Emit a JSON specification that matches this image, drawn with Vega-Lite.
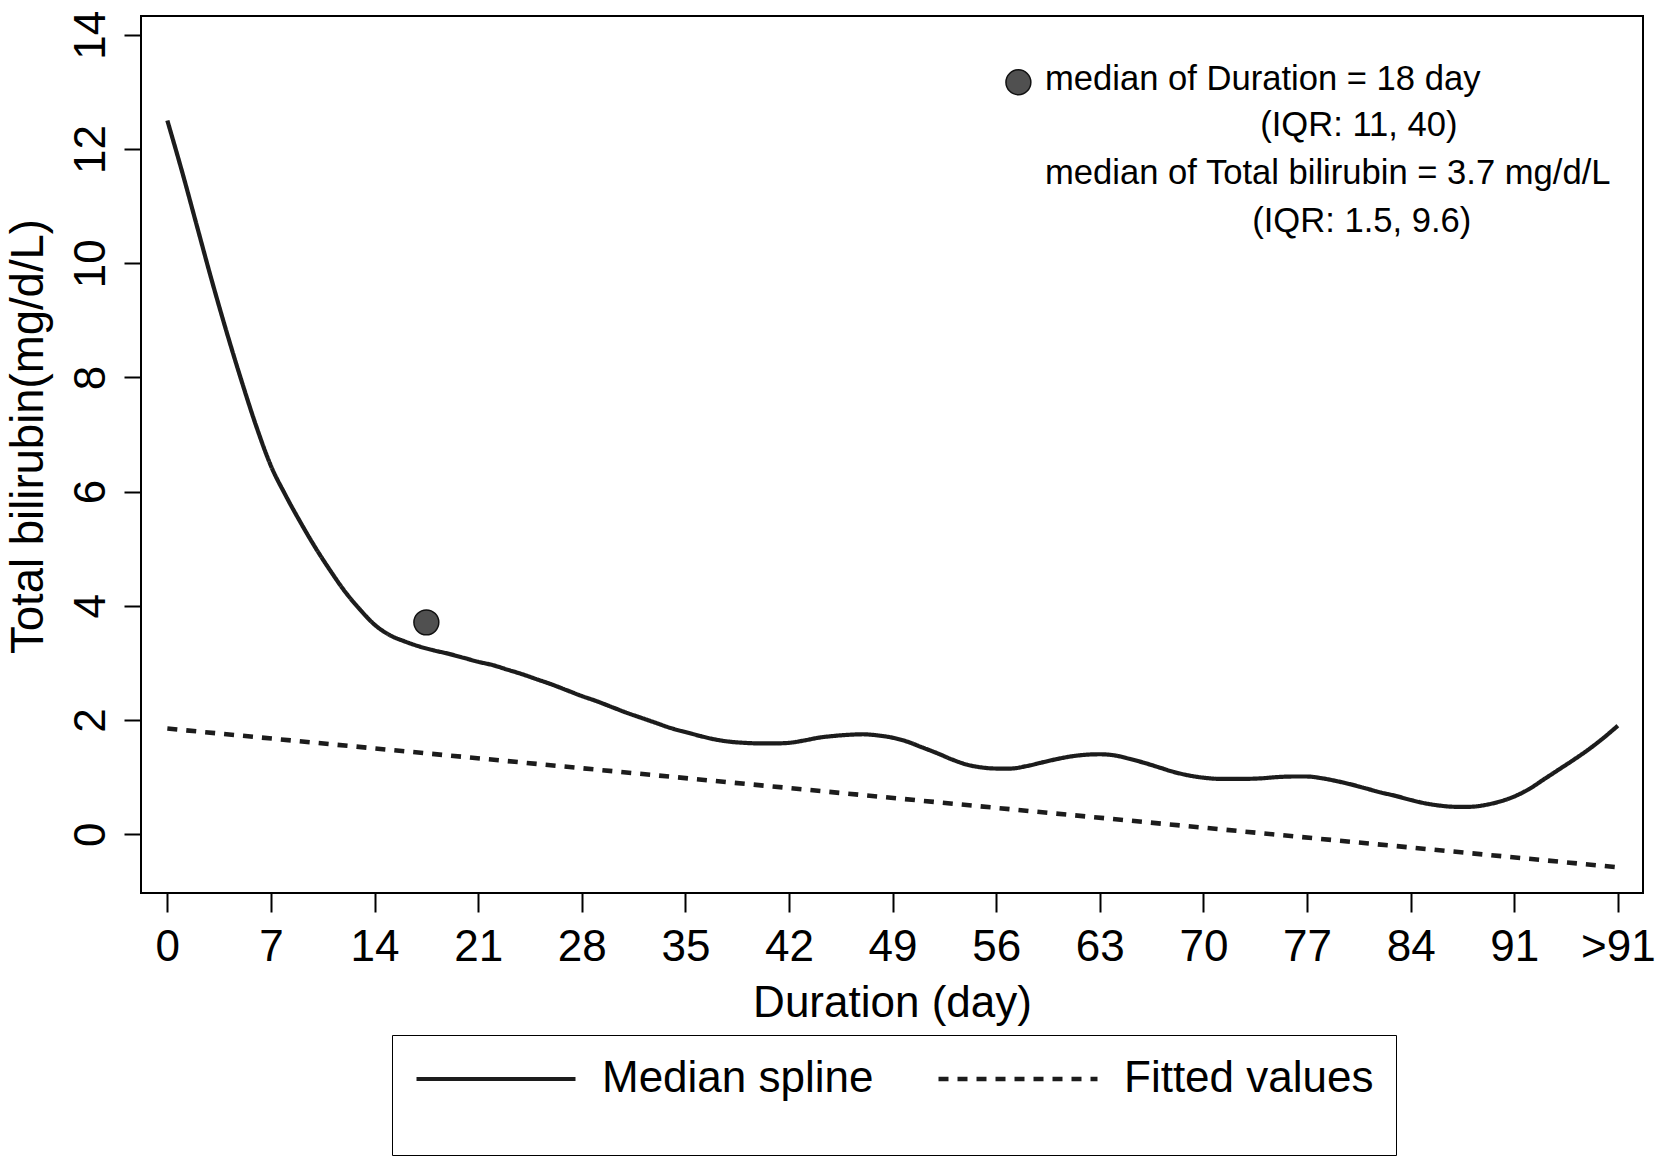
{
  "$schema": "https://vega.github.io/schema/vega-lite/v6.json",
  "width": 1502,
  "height": 877,
  "autosize": {"type": "none"},
  "padding": {"left": 141, "top": 16, "right": 17, "bottom": 267},
  "background": "white",
  "config": {
    "font": "Liberation Sans",
    "view": {"stroke": "black", "strokeWidth": 2},
    "axis": {
      "grid": false,
      "domain": false,
      "tickColor": "black",
      "tickWidth": 2,
      "labelColor": "black",
      "labelFontSize": 44,
      "titleColor": "black",
      "titleFontSize": 44,
      "titleFontWeight": "normal",
      "labelFont": "Liberation Sans",
      "titleFont": "Liberation Sans"
    }
  },
  "datasets": {
    "curve": [
      {"day": 0, "value": 12.5, "series": "Median spline"},
      {"day": 1, "value": 11.6, "series": "Median spline"},
      {"day": 2, "value": 10.65, "series": "Median spline"},
      {"day": 3, "value": 9.7, "series": "Median spline"},
      {"day": 4, "value": 8.8, "series": "Median spline"},
      {"day": 5, "value": 7.95, "series": "Median spline"},
      {"day": 6, "value": 7.15, "series": "Median spline"},
      {"day": 7, "value": 6.45, "series": "Median spline"},
      {"day": 8, "value": 5.93, "series": "Median spline"},
      {"day": 9, "value": 5.46, "series": "Median spline"},
      {"day": 10, "value": 5.02, "series": "Median spline"},
      {"day": 11, "value": 4.62, "series": "Median spline"},
      {"day": 12, "value": 4.25, "series": "Median spline"},
      {"day": 13, "value": 3.94, "series": "Median spline"},
      {"day": 14, "value": 3.67, "series": "Median spline"},
      {"day": 15, "value": 3.49, "series": "Median spline"},
      {"day": 16, "value": 3.38, "series": "Median spline"},
      {"day": 17, "value": 3.29, "series": "Median spline"},
      {"day": 18, "value": 3.22, "series": "Median spline"},
      {"day": 19, "value": 3.16, "series": "Median spline"},
      {"day": 20, "value": 3.09, "series": "Median spline"},
      {"day": 21, "value": 3.02, "series": "Median spline"},
      {"day": 22, "value": 2.96, "series": "Median spline"},
      {"day": 23, "value": 2.88, "series": "Median spline"},
      {"day": 24, "value": 2.8, "series": "Median spline"},
      {"day": 25, "value": 2.71, "series": "Median spline"},
      {"day": 26, "value": 2.62, "series": "Median spline"},
      {"day": 27, "value": 2.52, "series": "Median spline"},
      {"day": 28, "value": 2.42, "series": "Median spline"},
      {"day": 29, "value": 2.33, "series": "Median spline"},
      {"day": 30, "value": 2.23, "series": "Median spline"},
      {"day": 31, "value": 2.13, "series": "Median spline"},
      {"day": 32, "value": 2.04, "series": "Median spline"},
      {"day": 33, "value": 1.95, "series": "Median spline"},
      {"day": 34, "value": 1.86, "series": "Median spline"},
      {"day": 35, "value": 1.79, "series": "Median spline"},
      {"day": 36, "value": 1.72, "series": "Median spline"},
      {"day": 37, "value": 1.66, "series": "Median spline"},
      {"day": 38, "value": 1.62, "series": "Median spline"},
      {"day": 39, "value": 1.6, "series": "Median spline"},
      {"day": 40, "value": 1.59, "series": "Median spline"},
      {"day": 41, "value": 1.59, "series": "Median spline"},
      {"day": 42, "value": 1.6, "series": "Median spline"},
      {"day": 43, "value": 1.64, "series": "Median spline"},
      {"day": 44, "value": 1.69, "series": "Median spline"},
      {"day": 45, "value": 1.72, "series": "Median spline"},
      {"day": 46, "value": 1.74, "series": "Median spline"},
      {"day": 47, "value": 1.75, "series": "Median spline"},
      {"day": 48, "value": 1.73, "series": "Median spline"},
      {"day": 49, "value": 1.69, "series": "Median spline"},
      {"day": 50, "value": 1.62, "series": "Median spline"},
      {"day": 51, "value": 1.52, "series": "Median spline"},
      {"day": 52, "value": 1.42, "series": "Median spline"},
      {"day": 53, "value": 1.31, "series": "Median spline"},
      {"day": 54, "value": 1.22, "series": "Median spline"},
      {"day": 55, "value": 1.17, "series": "Median spline"},
      {"day": 56, "value": 1.15, "series": "Median spline"},
      {"day": 57, "value": 1.15, "series": "Median spline"},
      {"day": 58, "value": 1.19, "series": "Median spline"},
      {"day": 59, "value": 1.25, "series": "Median spline"},
      {"day": 60, "value": 1.31, "series": "Median spline"},
      {"day": 61, "value": 1.36, "series": "Median spline"},
      {"day": 62, "value": 1.39, "series": "Median spline"},
      {"day": 63, "value": 1.4, "series": "Median spline"},
      {"day": 64, "value": 1.38, "series": "Median spline"},
      {"day": 65, "value": 1.32, "series": "Median spline"},
      {"day": 66, "value": 1.25, "series": "Median spline"},
      {"day": 67, "value": 1.17, "series": "Median spline"},
      {"day": 68, "value": 1.09, "series": "Median spline"},
      {"day": 69, "value": 1.03, "series": "Median spline"},
      {"day": 70, "value": 0.99, "series": "Median spline"},
      {"day": 71, "value": 0.97, "series": "Median spline"},
      {"day": 72, "value": 0.97, "series": "Median spline"},
      {"day": 73, "value": 0.97, "series": "Median spline"},
      {"day": 74, "value": 0.98, "series": "Median spline"},
      {"day": 75, "value": 1.0, "series": "Median spline"},
      {"day": 76, "value": 1.01, "series": "Median spline"},
      {"day": 77, "value": 1.01, "series": "Median spline"},
      {"day": 78, "value": 0.98, "series": "Median spline"},
      {"day": 79, "value": 0.93, "series": "Median spline"},
      {"day": 80, "value": 0.87, "series": "Median spline"},
      {"day": 81, "value": 0.8, "series": "Median spline"},
      {"day": 82, "value": 0.73, "series": "Median spline"},
      {"day": 83, "value": 0.67, "series": "Median spline"},
      {"day": 84, "value": 0.6, "series": "Median spline"},
      {"day": 85, "value": 0.54, "series": "Median spline"},
      {"day": 86, "value": 0.5, "series": "Median spline"},
      {"day": 87, "value": 0.48, "series": "Median spline"},
      {"day": 88, "value": 0.48, "series": "Median spline"},
      {"day": 89, "value": 0.51, "series": "Median spline"},
      {"day": 90, "value": 0.57, "series": "Median spline"},
      {"day": 91, "value": 0.66, "series": "Median spline"},
      {"day": 92, "value": 0.79, "series": "Median spline"},
      {"day": 93, "value": 0.96, "series": "Median spline"},
      {"day": 94, "value": 1.13, "series": "Median spline"},
      {"day": 95, "value": 1.3, "series": "Median spline"},
      {"day": 96, "value": 1.48, "series": "Median spline"},
      {"day": 97, "value": 1.68, "series": "Median spline"},
      {"day": 98, "value": 1.9, "series": "Median spline"},
      {"day": 0, "value": 1.85, "series": "Fitted values"},
      {"day": 98, "value": -0.58, "series": "Fitted values"}
    ],
    "dots": [
      {"day": 17.5, "value": 3.71},
      {"day": 57.5, "value": 13.17}
    ],
    "notesLeft": [
      {"day": 59.3, "value": 13.03, "text": "median of Duration = 18 day"},
      {"day": 59.3, "value": 11.39, "text": "median of Total bilirubin = 3.7 mg/d/L"}
    ],
    "notesCenter": [
      {"day": 80.5, "value": 12.22, "text": "(IQR: 11, 40)"},
      {"day": 80.7, "value": 10.55, "text": "(IQR: 1.5, 9.6)"}
    ]
  },
  "layer": [
    {
      "data": {"name": "curve"},
      "mark": {"type": "line", "color": "#1c1c1c", "interpolate": "monotone", "strokeCap": "butt"},
      "encoding": {
        "x": {
          "field": "day",
          "type": "quantitative",
          "scale": {"domain": [-1.78, 99.7], "nice": false, "zero": false},
          "axis": {
            "title": "Duration (day)",
            "values": [0, 7, 14, 21, 28, 35, 42, 49, 56, 63, 70, 77, 84, 91, 98],
            "labelExpr": "datum.value == 98 ? '>91' : datum.label",
            "tickSize": 19,
            "labelBaseline": "alphabetic",
            "labelPadding": 48,
            "labelFlush": false,
            "labelOverlap": false,
            "titleBaseline": "alphabetic",
            "titleY": 123
          }
        },
        "y": {
          "field": "value",
          "type": "quantitative",
          "scale": {"domain": [-1.03, 14.33], "nice": false, "zero": false},
          "axis": {
            "title": "Total bilirubin(mg/d/L)",
            "values": [0, 2, 4, 6, 8, 10, 12, 14],
            "format": "d",
            "tickSize": 17,
            "labelAngle": -90,
            "labelAlign": "center",
            "labelBaseline": "alphabetic",
            "labelPadding": 20,
            "labelFlush": false,
            "labelOverlap": false,
            "titleAngle": -90,
            "titleAlign": "center",
            "titleBaseline": "alphabetic",
            "titleFontSize": 45.5,
            "titleX": -99,
            "titleY": 420
          }
        },
        "strokeWidth": {
          "field": "series",
          "type": "nominal",
          "scale": {"domain": ["Median spline", "Fitted values"], "range": [4.2, 4.6]},
          "legend": null
        },
        "strokeDash": {
          "field": "series",
          "type": "nominal",
          "scale": {"domain": ["Median spline", "Fitted values"], "range": [[1, 0], [10, 9]]},
          "legend": {
            "title": " ",
            "titleOrient": "bottom",
            "titleFontSize": 30,
            "titlePadding": 2,
            "orient": "none",
            "direction": "horizontal",
            "legendX": 251,
            "legendY": 1019,
            "strokeColor": "black",
            "padding": 22,
            "symbolType": "stroke",
            "symbolSize": 25281,
            "symbolStrokeWidth": 4.4,
            "symbolStrokeColor": "#1c1c1c",
            "labelFontSize": 44,
            "labelColor": "black",
            "labelFont": "Liberation Sans",
            "labelOffset": 24,
            "columnPadding": 62,
            "clipHeight": 44,
            "labelLimit": 0
          }
        }
      }
    },
    {
      "data": {"name": "dots"},
      "mark": {"type": "point", "shape": "circle", "filled": true, "size": 620, "fill": "#505050", "stroke": "#111111", "strokeWidth": 1.5, "opacity": 1},
      "encoding": {
        "x": {"field": "day", "type": "quantitative"},
        "y": {"field": "value", "type": "quantitative"}
      }
    },
    {
      "data": {"name": "notesLeft"},
      "mark": {"type": "text", "align": "left", "baseline": "alphabetic", "fontSize": 34.6, "color": "black", "font": "Liberation Sans"},
      "encoding": {
        "x": {"field": "day", "type": "quantitative"},
        "y": {"field": "value", "type": "quantitative"},
        "text": {"field": "text"}
      }
    },
    {
      "data": {"name": "notesCenter"},
      "mark": {"type": "text", "align": "center", "baseline": "alphabetic", "fontSize": 34.6, "color": "black", "font": "Liberation Sans"},
      "encoding": {
        "x": {"field": "day", "type": "quantitative"},
        "y": {"field": "value", "type": "quantitative"},
        "text": {"field": "text"}
      }
    }
  ]
}
